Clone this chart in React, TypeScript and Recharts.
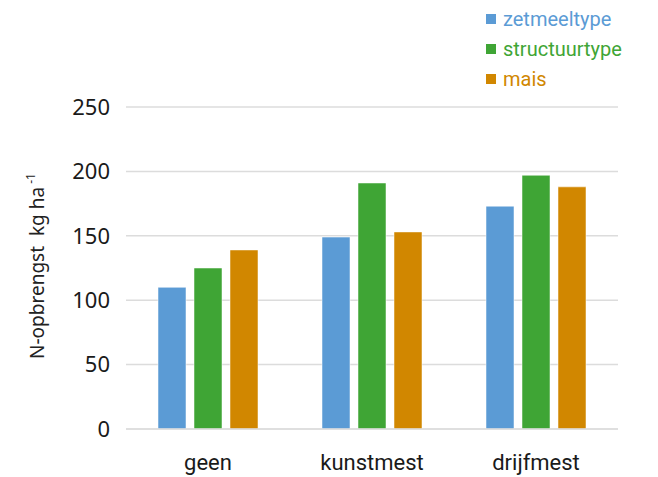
import { Bar, BarChart, CartesianGrid, XAxis, YAxis } from 'recharts';

const CATEGORIES = ['geen', 'kunstmest', 'drijfmest'];
const ZETMEEL = [110, 149, 173];
const STRUCTUUR = [125, 191, 197];
const MAIS = [139, 153, 188];
const Y_TICKS = [0, 50, 100, 150, 200, 250];

const SERIES = [
  { key: 'zetmeeltype', values: ZETMEEL, color: '#5B9BD5' },
  { key: 'structuurtype', values: STRUCTUUR, color: '#3FA535' },
  { key: 'mais', values: MAIS, color: '#D18700' },
];

const data = CATEGORIES.map((name, i) => {
  const row: Record<string, string | number> = { name };
  SERIES.forEach((s) => (row[s.key] = s.values[i]));
  return row;
});

const TEXT_FONT = 'Roboto, "Noto Sans", sans-serif';
const TICK_FONT = '"Noto Sans", sans-serif';

function LegendBox() {
  return (
    <div style={{ position: 'absolute', top: 4, left: 486, fontFamily: TEXT_FONT, fontSize: 20 }}>
      {SERIES.map((s) => (
        <div key={s.key} style={{ display: 'flex', alignItems: 'center', height: 30, color: s.color }}>
          <span style={{ width: 10, height: 10, background: s.color, marginRight: 7 }} />
          {s.key}
        </div>
      ))}
    </div>
  );
}

function YLabel() {
  return (
    <text
      transform="translate(44, 266) rotate(-90)"
      textAnchor="middle"
      fontFamily={TICK_FONT}
      fontSize={19}
      fill="#222"
      style={{ whiteSpace: 'pre' }}
    >
      N-opbrengst  kg ha
      <tspan fontSize={12} dy={-9}> -1</tspan>
    </text>
  );
}

export default function App() {
  return (
    <div style={{ width: 658, height: 477, position: 'relative' }}>
      <style>{'body{margin:0}'}</style>
      <BarChart
        width={658}
        height={477}
        data={data}
        margin={{ top: 107, right: 40, left: 0, bottom: 8 }}
        barSize={28}
        barGap={8}
      >
        <CartesianGrid vertical={false} stroke="#dcdcdc" strokeWidth={1.5} />
        <XAxis
          dataKey="name"
          height={40}
          axisLine={{ stroke: '#dcdcdc', strokeWidth: 1.5 }}
          tickLine={false}
          tick={{ fontSize: 22, fill: '#1a1a1a', fontFamily: TEXT_FONT }}
          tickMargin={19}
        />
        <YAxis
          width={126}
          domain={[0, 250]}
          ticks={Y_TICKS}
          axisLine={false}
          tickLine={false}
          tickMargin={10}
          tick={{ fontSize: 22, fill: '#1a1a1a', fontFamily: TICK_FONT }}
          label={<YLabel />}
        />
        {SERIES.map((s) => (
          <Bar
            key={s.key}
            dataKey={s.key}
            fill={s.color}
            stroke="#ffffff"
            strokeOpacity={0.5}
            isAnimationActive={false}
          />
        ))}
      </BarChart>
      <LegendBox />
    </div>
  );
}
